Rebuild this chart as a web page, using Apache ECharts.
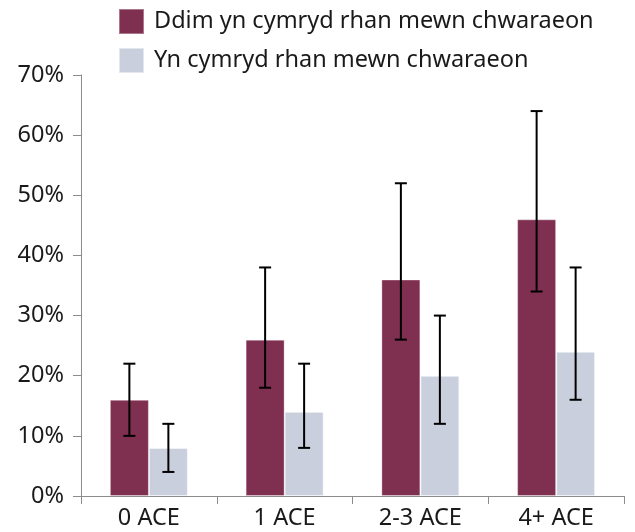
<!DOCTYPE html>
<html>
<head>
<meta charset="utf-8">
<script src="https://cdn.jsdelivr.net/npm/echarts@6/dist/echarts.min.js"></script>
<style>
  html, body { margin: 0; padding: 0; background: #fff; }
  #chart { width: 635px; height: 532px; }
</style>
</head>
<body>
<div id="chart"></div>
<script>
// data
const categories = ['0 ACE', '1 ACE', '2-3 ACE', '4+ ACE'];
const seriesNames = ['Ddim yn cymryd rhan mewn chwaraeon', 'Yn cymryd rhan mewn chwaraeon'];
const notPlaying = [16, 26, 36, 46];
const playing = [8, 14, 20, 24];
const notPlayingLow = [10, 18, 26, 34];
const notPlayingHigh = [22, 38, 52, 64];
const playingLow = [4, 8, 12, 16];
const playingHigh = [12, 22, 30, 38];

const colors = ['#7f2f4f', '#c9cfdc'];
const barWidth = 39;
const font = 'Noto Sans';

function errorData(low, high) {
    return categories.map((c, i) => [i, low[i], high[i]]);
}

function errorRenderer(shift) {
    return function (params, api) {
        const lo = api.coord([api.value(0), api.value(1)]);
        const hi = api.coord([api.value(0), api.value(2)]);
        const x = lo[0] + shift;
        const cap = 6;
        const style = { stroke: '#000', lineWidth: 2 };
        return {
            type: 'group',
            children: [
                { type: 'line', shape: { x1: x, y1: lo[1], x2: x, y2: hi[1] }, style: style },
                { type: 'line', shape: { x1: x - cap, y1: lo[1], x2: x + cap, y2: lo[1] }, style: style },
                { type: 'line', shape: { x1: x - cap, y1: hi[1], x2: x + cap, y2: hi[1] }, style: style }
            ]
        };
    };
}

const chart = echarts.init(document.getElementById('chart'));
chart.setOption({
    animation: false,
    textStyle: { fontFamily: font },
    color: colors,
    legend: {
        orient: 'vertical',
        left: 118,
        top: 8,
        padding: 0,
        itemWidth: 25,
        itemHeight: 25,
        itemGap: 12,
        icon: 'rect',
        data: seriesNames,
        textStyle: { fontSize: 23.5, color: '#1a1a1a', fontFamily: font, padding: [0, 0, 0, 5] }
    },
    grid: { left: 81, right: 11, top: 75, bottom: 36 },
    xAxis: {
        type: 'category',
        data: categories,
        axisLine: { lineStyle: { color: '#8c8c8c', width: 1 } },
        axisTick: { show: true, length: 8, lineStyle: { color: '#8c8c8c' } },
        axisLabel: { fontSize: 23.5, color: '#1a1a1a', margin: 10 }
    },
    yAxis: {
        type: 'value',
        min: 0,
        max: 70,
        interval: 10,
        splitLine: { show: false },
        axisLine: { show: true, lineStyle: { color: '#8c8c8c', width: 1 } },
        axisTick: { show: true, length: 8, lineStyle: { color: '#8c8c8c' } },
        axisLabel: { fontSize: 23.5, color: '#1a1a1a', margin: 17, formatter: '{value}%' }
    },
    series: [
        {
            name: seriesNames[0],
            type: 'bar',
            data: notPlaying,
            barWidth: barWidth,
            barGap: '0%',
            itemStyle: { color: colors[0], borderColor: 'rgba(255,255,255,0.35)', borderWidth: 1 }
        },
        {
            name: seriesNames[1],
            type: 'bar',
            data: playing,
            barWidth: barWidth,
            barGap: '0%',
            itemStyle: { color: colors[1], borderColor: 'rgba(255,255,255,0.5)', borderWidth: 1 }
        },
        {
            type: 'custom',
            renderItem: errorRenderer(-barWidth / 2),
            data: errorData(notPlayingLow, notPlayingHigh),
            encode: { x: 0, y: [1, 2] },
            z: 10
        },
        {
            type: 'custom',
            renderItem: errorRenderer(barWidth / 2),
            data: errorData(playingLow, playingHigh),
            encode: { x: 0, y: [1, 2] },
            z: 10
        }
    ]
});
</script>
</body>
</html>
